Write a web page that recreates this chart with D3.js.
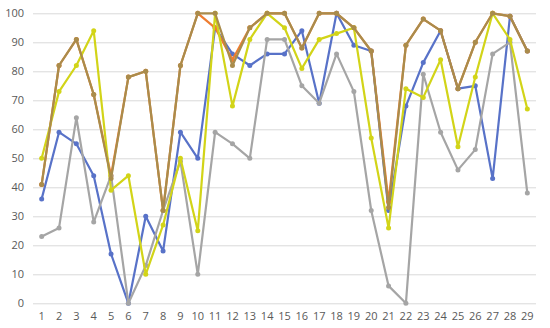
<!DOCTYPE html>
<html><head><meta charset="utf-8">
<script src="https://cdn.jsdelivr.net/npm/d3@7"></script>
<style>body{margin:0;background:#fff}svg{display:block}text{font-family:"Open Sans","Liberation Sans",Arial,sans-serif}</style>
</head><body><svg id="c" width="550" height="328"></svg>
<script>
const categories = d3.range(1, 30);
const yTicks = [0,10,20,30,40,50,60,70,80,90,100];
const blue   = [36,59,55,44,17,0,30,18,59,50,95,86,82,86,86,94,69,100,89,87,32,68,83,94,74,75,43,99,87];
const orange = [41,82,91,72,44,78,80,32,82,100,95,84,95,100,100,88,100,100,95,87,35,89,98,94,74,90,100,99,87];
const gray   = [23,26,64,28,44,0,13,32,49,10,59,55,50,91,91,75,69,86,73,32,6,0,79,59,46,53,86,90,38];
const yellow = [50,73,82,94,39,44,10,27,50,25,100,68,91,100,95,81,91,93,95,57,26,74,71,84,54,78,100,91,67];
const brown  = [41,82,91,72,43,78,80,32,82,100,100,82,95,100,100,88,100,100,95,87,33,89,98,94,74,90,100,99,87];
const series = [
  {name:"blue", values:blue, color:"#5872c8"},
  {name:"orange", values:orange, color:"#ee7d31"},
  {name:"gray", values:gray, color:"#a5a5a5"},
  {name:"yellow", values:yellow, color:"#d2d418"},
  {name:"brown", values:brown, color:"#a98c4c"}
];
const svg = d3.select("#c");
const x = d3.scaleBand().domain(categories).range([33, 536]);
const y = d3.scaleLinear().domain([0, 100]).range([303.3, 13.3]);
const cx = d => x(d) + x.bandwidth()/2;

const gy = svg.append("g").attr("transform","translate(33,0)")
  .call(d3.axisLeft(y).tickValues(yTicks).tickSize(-503).tickPadding(9));
gy.select(".domain").remove();
gy.selectAll("line").attr("stroke","#d9d9d9").attr("stroke-width",1);
gy.selectAll("text").attr("fill","#595959").attr("font-size","11px");

const gx = svg.append("g").attr("transform","translate(0,303.3)")
  .call(d3.axisBottom(x).tickSize(0).tickPadding(9));
gx.select(".domain").remove();
gx.selectAll("text").attr("fill","#595959").attr("font-size","11px");

const line = d3.line().x((d,i)=>cx(categories[i])).y(d=>y(d));
series.forEach(s=>{
  const g = svg.append("g");
  g.append("path").attr("d", line(s.values)).attr("fill","none")
    .attr("stroke", s.color).attr("stroke-width", 2.2).attr("stroke-linejoin","round");
  g.selectAll("circle").data(s.values).join("circle")
    .attr("cx",(d,i)=>cx(categories[i])).attr("cy",d=>y(d)).attr("r",2.5)
    .attr("fill", s.color);
});
</script></body></html>
